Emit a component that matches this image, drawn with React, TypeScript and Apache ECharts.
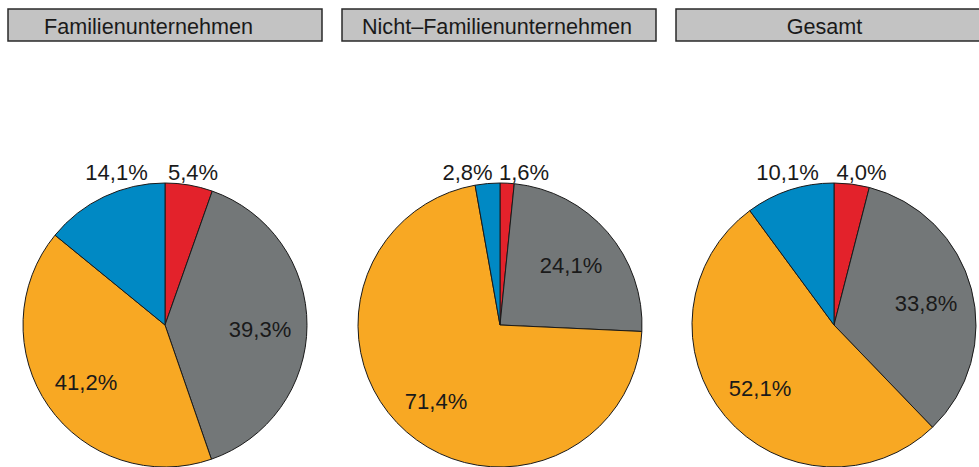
import React, { useEffect, useRef } from "react";
import * as echarts from "echarts";

// Panel titles
const titles = ["Familienunternehmen", "Nicht–Familienunternehmen", "Gesamt"];
// Slice categories (clockwise from top)
const categories = ["Kategorie 1", "Kategorie 2", "Kategorie 3", "Kategorie 4"];
// Values in percent per panel
const familienValues = [5.4, 39.3, 41.2, 14.1];
const nichtFamilienValues = [1.6, 24.1, 71.4, 2.8];
const gesamtValues = [4.0, 33.8, 52.1, 10.1];

const seriesValues = [familienValues, nichtFamilienValues, gesamtValues];

// Styles / layout
const colors = ["#e3222b", "#737778", "#f8a823", "#0089c4"];
const centersX = [165, 500, 834];
const centerY = 325;
const radius = 142;
const boxX = [8, 342, 676];
const boxW = 314;
const titleX = [148.5, 497, 824.5];
// label offsets (dx, dy) from pie center, per panel per slice
const labelOffsets = [
  [[28, -153], [95, 4], [-79, 57], [-48.5, -153]],
  [[24, -153], [71, -60], [-64, 76], [-32.5, -153]],
  [[27.5, -153], [92, -22], [-74, 63], [-46.5, -153]],
];
const FONT = "'Liberation Sans', Arial, sans-serif";

const fmt = (v: number) => v.toFixed(1).replace(".", ",") + "%";

export default function App() {
  const ref = useRef<HTMLDivElement>(null);
  useEffect(() => {
    if (!ref.current) return;
    const chart = echarts.init(ref.current, undefined, { renderer: "svg" });
    const series = seriesValues.map((vals, p) => ({
      type: "pie",
      center: [centersX[p], centerY],
      radius: [0, radius],
      startAngle: 90,
      clockwise: true,
      avoidLabelOverlap: false,
      silent: true,
      data: vals.map((v, i) => ({
        name: categories[i],
        value: v,
        itemStyle: { color: colors[i] },
      })),
      itemStyle: { borderColor: "#1a1a1a", borderWidth: 1 },
      label: {
        show: true,
        position: "inside",
        formatter: (pr: any) => fmt(pr.value),
        color: "#1a1a1a",
        fontSize: 22,
        fontFamily: FONT,
      },
      labelLine: { show: false },
      labelLayout: (pr: any) => {
        const off = labelOffsets[p][pr.dataIndex];
        return {
          x: centersX[p] + off[0],
          y: centerY + off[1],
          align: "center",
          verticalAlign: "middle",
        };
      },
      emphasis: { disabled: true },
    }));
    const graphic: any[] = [];
    titles.forEach((t, i) => {
      graphic.push({
        type: "rect",
        shape: { x: boxX[i], y: 9, width: boxW, height: 32 },
        style: { fill: "#c3c3c3", stroke: "#2a2a2a", lineWidth: 1.5 },
        silent: true,
      });
      graphic.push({
        type: "text",
        x: titleX[i],
        y: 26,
        style: {
          text: t,
          fill: "#1a1a1a",
          font: `21.6px ${FONT}`,
          textAlign: "center",
          textVerticalAlign: "middle",
        },
        silent: true,
      });
    });
    chart.setOption({
      animation: false,
      backgroundColor: "#ffffff",
      series,
      graphic,
    } as any);
    return () => chart.dispose();
  }, []);
  return (
    <div
      ref={ref}
      style={{ position: "absolute", left: 0, top: 0, width: 979, height: 467 }}
    />
  );
}
